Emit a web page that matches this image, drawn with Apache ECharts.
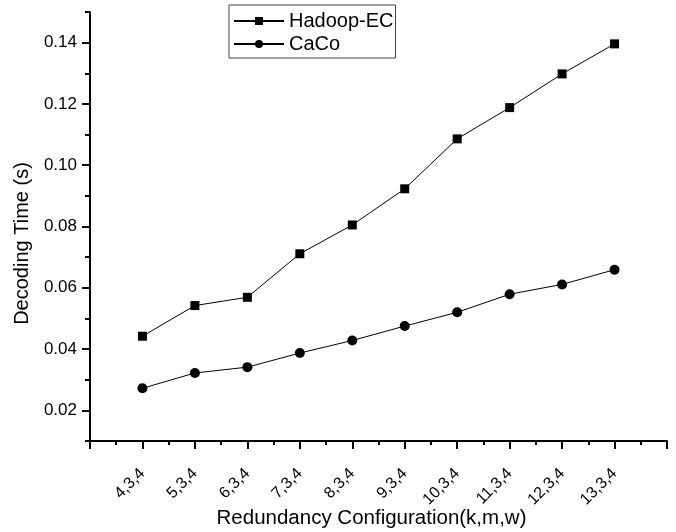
<!DOCTYPE html>
<html>
<head>
<meta charset="utf-8">
<script src="https://cdn.jsdelivr.net/npm/echarts@6/dist/echarts.min.js"></script>
<style>html,body{margin:0;padding:0;background:#fff}#c{width:676px;height:532px}</style>
</head>
<body>
<div id="c"></div>
<script>
var categories = ['4,3,4','5,3,4','6,3,4','7,3,4','8,3,4','9,3,4','10,3,4','11,3,4','12,3,4','13,3,4'];
var hadoopEC = [0.0442,0.0542,0.0569,0.0711,0.0805,0.0923,0.1086,0.1188,0.1298,0.1396];
var caco = [0.0272,0.0322,0.0341,0.0387,0.0428,0.0475,0.0520,0.0579,0.0611,0.0659];
var yTickLabels = [0.02,0.04,0.06,0.08,0.10,0.12,0.14];

var FONT = 'Liberation Sans, Arial, sans-serif';
function pts(arr){ return arr.map(function(v,i){ return [i+1, v]; }); }

var chart = echarts.init(document.getElementById('c'), null, {renderer:'canvas'});
chart.setOption({
  animation: false,
  backgroundColor: '#fff',
  textStyle: {fontFamily: FONT, color: '#000'},
  grid: {left: 90, right: 9, top: 12, bottom: 91, containLabel: false, outerBoundsMode: 'none'},
  legend: {
    orient: 'vertical', left: 229, top: 5,
    padding: [6, 2, 4, 4],
    itemGap: 3, itemWidth: 50, itemHeight: 10,
    borderColor: '#444', borderWidth: 1,
    textStyle: {fontFamily: FONT, fontSize: 20, color: '#000'},
    data: ['Hadoop-EC','CaCo']
  },
  xAxis: {
    type: 'value', min: 0, max: 11, interval: 1,
    name: 'Redundancy Configuration(k,m,w)', nameLocation: 'middle', nameGap: 67, nameMoveOverlap: false,
    nameTextStyle: {fontFamily: FONT, fontSize: 20.5, color: '#000', padding: [0, 14, 0, 0]},
    axisLine: {show: true, lineStyle: {color: '#000', width: 2}},
    axisTick: {show: true, inside: false, length: 8, lineStyle: {color: '#000', width: 2}},
    minorTick: {show: true, splitNumber: 2, length: 4, lineStyle: {color: '#000', width: 2}},
    splitLine: {show: false}, minorSplitLine: {show: false},
    axisLabel: {
      rotate: 45, margin: 30, fontSize: 16, color: '#000', fontFamily: FONT,
      showMinLabel: true, showMaxLabel: true,
      formatter: function(v){ var i = Math.round(v) - 1; return (i >= 0 && i < categories.length) ? categories[i] : ''; }
    }
  },
  yAxis: [{
    type: 'value', min: 0.01, max: 0.15, interval: 0.01, position: 'left',
    axisLine: {show: true, lineStyle: {color: '#000', width: 2}},
    axisTick: {show: true, inside: false, length: 5, lineStyle: {color: '#000', width: 2}},
    axisLabel: {show: false},
    splitLine: {show: false}
  },{
    type: 'value', min: 0.01, max: 0.15, position: 'left', offset: 0,
    name: 'Decoding Time (s)', nameLocation: 'middle', nameGap: 58, nameRotate: 90, nameMoveOverlap: false,
    nameTextStyle: {fontFamily: FONT, fontSize: 20, color: '#000', padding: [0, 34, 0, 0]},
    axisLine: {show: false},
    axisTick: {show: true, inside: false, length: 8, customValues: yTickLabels, lineStyle: {color: '#000', width: 2}},
    axisLabel: {show: true, customValues: yTickLabels, fontSize: 17, color: '#000', fontFamily: FONT, margin: 13,
      formatter: function(v){ return v.toFixed(2); }},
    splitLine: {show: false}
  }],
  series: [{
    name: 'Hadoop-EC', type: 'line', yAxisIndex: 0,
    data: pts(hadoopEC), symbol: 'rect', symbolSize: 9,
    lineStyle: {color: '#000', width: 1}, itemStyle: {color: '#000'}
  },{
    name: 'CaCo', type: 'line', yAxisIndex: 0,
    data: pts(caco), symbol: 'circle', symbolSize: 10,
    lineStyle: {color: '#000', width: 1}, itemStyle: {color: '#000'}
  }]
});
</script>
</body>
</html>
